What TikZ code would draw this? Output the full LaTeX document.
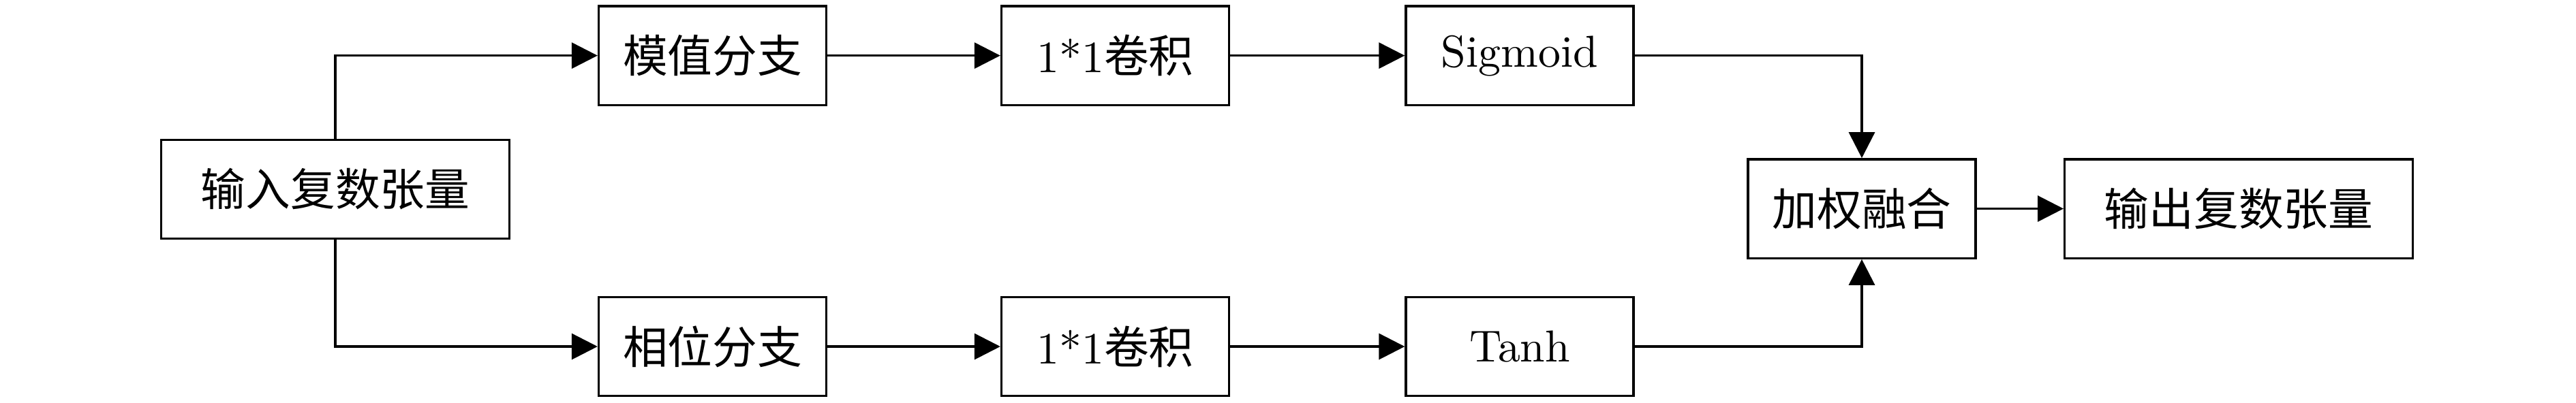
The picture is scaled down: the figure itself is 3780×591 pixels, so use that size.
\documentclass[tikz,border=0pt]{standalone}
\usepackage{fontspec}
\newfontfamily\cjk{Noto Sans CJK SC}
\usetikzlibrary{arrows.meta}
\begin{document}
\begin{tikzpicture}[x=0.15pt,y=-0.15pt,
  box/.style={draw, line width=0.5pt, minimum height=21.8pt, inner sep=0pt, font=\fontsize{9.86}{12}\selectfont},
  narrow/.style={box, minimum width=50.1pt},
  wide/.style={box, minimum width=76.6pt},
  arr/.style={line width=0.5pt, -{Triangle[length=5.7pt,width=5.7pt]}}]
\useasboundingbox (0,0) rectangle (3780,591);
\node[wide]   (in)   at (492,278)    {\cjk 输入复数张量};
\node[narrow] (m1)   at (1045.5,81.6) {\cjk 模值分支};
\node[narrow] (p1)   at (1045.5,509)  {\cjk 相位分支};
\node[narrow] (m2)   at (1636.5,81.6) {1*1{\cjk 卷积}};
\node[narrow] (p2)   at (1636.5,509)  {1*1{\cjk 卷积}};
\node[narrow] (m3)   at (2230,81.6)   {Sigmoid};
\node[narrow] (p3)   at (2230,509)    {Tanh};
\node[narrow] (fuse) at (2732,306.5)  {\cjk 加权融合};
\node[wide]   (out)  at (3285,306.5)  {\cjk 输出复数张量};
\draw[arr] (in.north) |- (m1.west);
\draw[arr] (in.south) |- (p1.west);
\draw[arr] (m1) -- (m2);
\draw[arr] (m2) -- (m3);
\draw[arr] (p1) -- (p2);
\draw[arr] (p2) -- (p3);
\draw[arr] (m3.east) -| (fuse.north);
\draw[arr] (p3.east) -| (fuse.south);
\draw[arr] (fuse) -- (out);
\end{tikzpicture}
\end{document}
